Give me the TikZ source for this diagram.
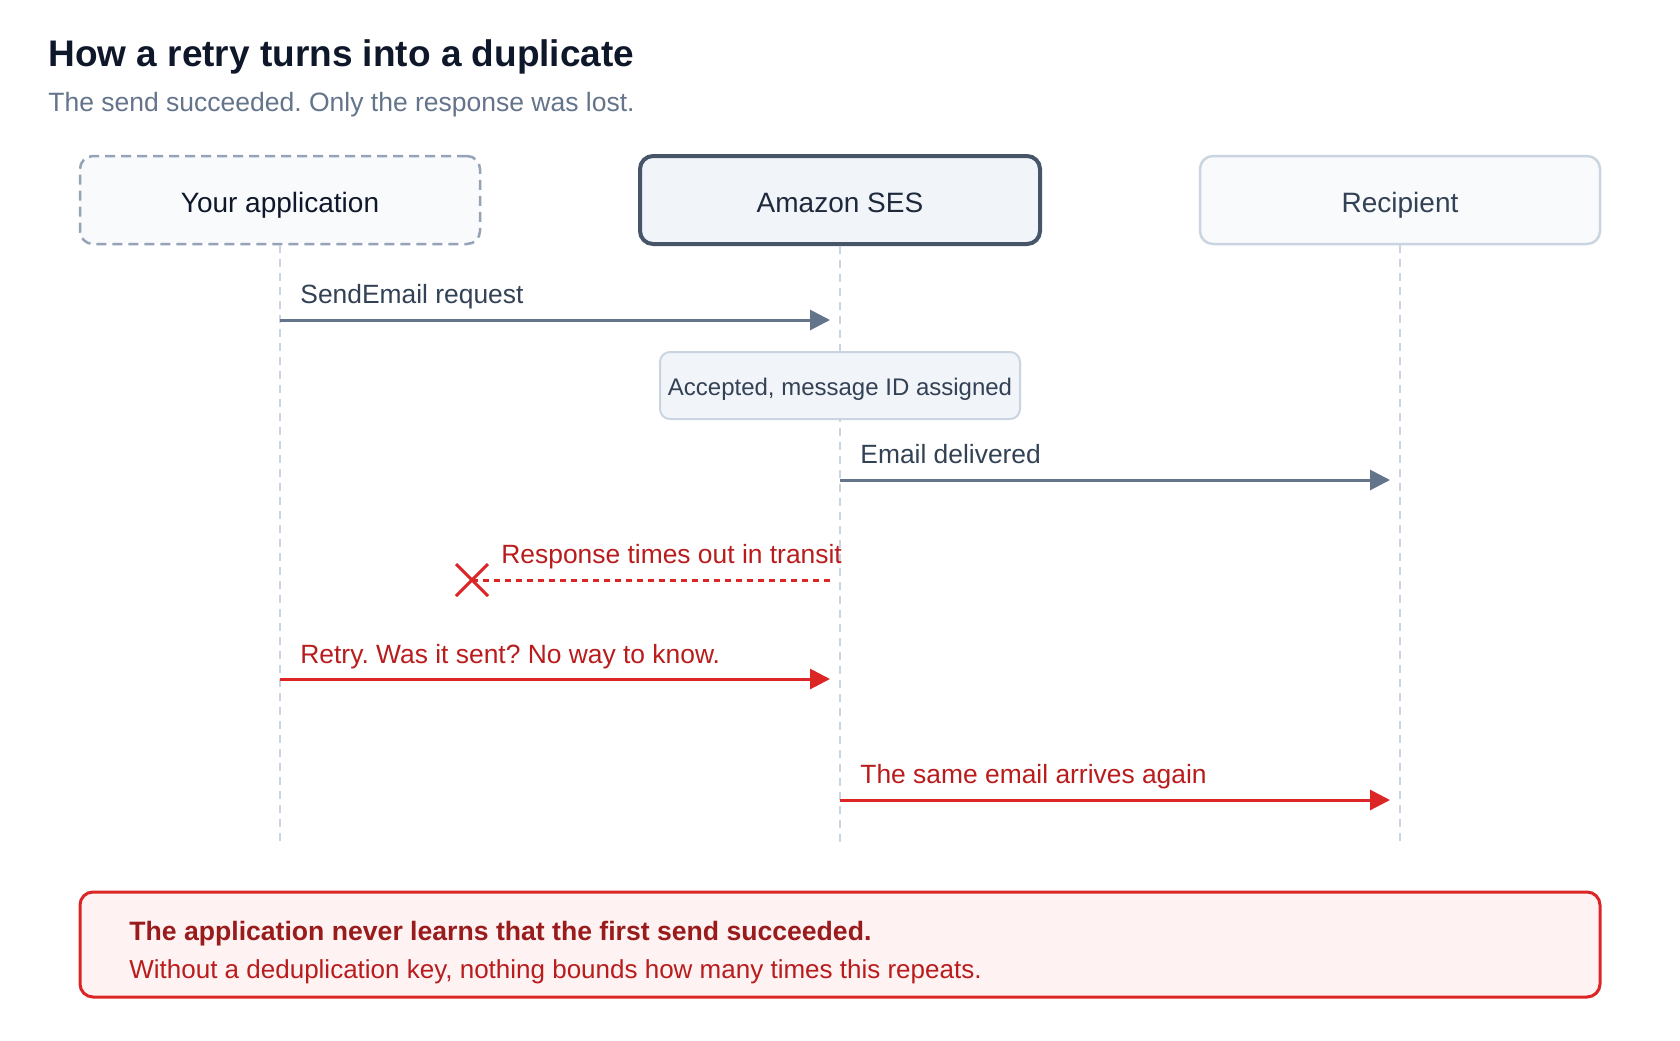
\documentclass[tikz,border=0pt]{standalone}
\usepackage{fontspec}
\setmainfont{Liberation Sans}
\frenchspacing
\usetikzlibrary{arrows.meta,calc,positioning}
\definecolor{ink}{HTML}{0F172A}
\definecolor{inkmid}{HTML}{1E293B}
\definecolor{slatetext}{HTML}{334155}
\definecolor{slatedark}{HTML}{475569}
\definecolor{slate}{HTML}{64748B}
\definecolor{slatelight}{HTML}{94A3B8}
\definecolor{rule}{HTML}{CBD5E1}
\definecolor{panel}{HTML}{F8FAFC}
\definecolor{panelmid}{HTML}{F1F5F9}
\definecolor{alarm}{HTML}{DC2626}
\definecolor{alarmtext}{HTML}{B91C1C}
\definecolor{alarmdark}{HTML}{991B1B}
\definecolor{alarmbg}{HTML}{FEF2F2}
\tikzset{
	actor/.style={rounded corners=6.5pt,minimum width=200pt,minimum height=44pt,text height=12pt,text depth=0pt,anchor=center,font=\fontsize{14pt}{16pt}\selectfont},
	lifeline/.style={draw=rule,line width=1pt,dash pattern=on 4pt off 3pt},
	msg/.style={draw=slate,line width=1.5pt,-{Triangle[length=10pt,width=10pt]}},
	retrymsg/.style={draw=alarm,line width=1.5pt,-{Triangle[length=10pt,width=10pt]}},
	lostmsg/.style={draw=alarm,line width=1.5pt,dash pattern=on 3pt off 2.5pt},
	msglabel/.style={anchor=base west,inner sep=0pt,font=\fontsize{13.2pt}{16pt}\selectfont},
	notebox/.style={draw=rule,fill=panelmid,line width=1pt,rounded corners=5pt,minimum width=180pt,minimum height=33.5pt,text height=10pt,text depth=0pt,text=slatetext,font=\fontsize{12pt}{14pt}\selectfont},
}
\begin{document}
\begin{tikzpicture}[x=0.5pt,y=-0.5pt]
\fill[white] (0,0) rectangle (1680,1040);
% heading
\node (title) at (48,66) [anchor=base west,inner sep=0pt,text=ink,font=\fontsize{18.5pt}{22pt}\selectfont\bfseries] {How a retry turns into a duplicate};
\node (subtitle) at (48,111) [anchor=base west,inner sep=0pt,text=slate,font=\fontsize{13.25pt}{16pt}\selectfont] {The send succeeded. Only the response was lost.};
% participants
\node (app) at (280,200) [actor,fill=panel,draw=slatelight,line width=1.25pt,dash pattern=on 5pt off 3pt,text=ink] {Your application};
\node (ses) at (840,200) [actor,fill=panelmid,draw=slatedark,line width=2pt,text=inkmid] {Amazon SES};
\node (rcpt) at (1400,200) [actor,fill=panel,draw=rule,line width=1.25pt,text=slatetext] {Recipient};
\coordinate (end) at (0,843);
\foreach \p in {app,ses,rcpt}
	\draw[lifeline] (\p.south) -- (\p.south |- end);
% messages
\coordinate (r1) at (0,320);
\draw[msg] (app.south |- r1) coordinate (s1) -- ($(ses.south |- r1)+(-10,0)$);
\node (l1) at ($(s1)+(20,-17)$) [msglabel,text=slatetext] {SendEmail request};
\node (note) at (840,385.5) [notebox] {Accepted, message ID assigned};
\coordinate (r2) at (0,480);
\draw[msg] (ses.south |- r2) coordinate (s2) -- ($(rcpt.south |- r2)+(-10,0)$);
\node (l2) at ($(s2)+(20,-17)$) [msglabel,text=slatetext] {Email delivered};
\coordinate (xm) at (472,580);
\draw[lostmsg] ($(ses.south |- xm)+(-10,0)$) coordinate (s3) -- (xm);
\draw[alarm,line width=1.5pt] ($(xm)+(-16,-16)$) -- ($(xm)+(16,16)$) ($(xm)+(-16,16)$) -- ($(xm)+(16,-16)$);
\node (l3) at ($(xm)+(29,-17)$) [msglabel,text=alarmtext] {Response times out in transit};
\coordinate (r4) at (0,679);
\draw[retrymsg] (app.south |- r4) coordinate (s4) -- ($(ses.south |- r4)+(-10,0)$);
\node (l4) at ($(s4)+(20,-16)$) [msglabel,text=alarmtext] {Retry. Was it sent? No way to know.};
\coordinate (r5) at (0,800);
\draw[retrymsg] (ses.south |- r5) coordinate (s5) -- ($(rcpt.south |- r5)+(-10,0)$);
\node (l5) at ($(s5)+(20,-17)$) [msglabel,text=alarmtext] {The same email arrives again};
% outcome
\node (warn) at (840,944.5) [draw=alarm,fill=alarmbg,line width=1.5pt,rounded corners=6.5pt,minimum width=760pt,minimum height=52.5pt] {};
\node (warn1) at (129,940) [anchor=base west,inner sep=0pt,text=alarmdark,font=\fontsize{13.3pt}{16pt}\selectfont\bfseries] {The application never learns that the first send succeeded.};
\node (warn2) at (129,978) [anchor=base west,inner sep=0pt,text=alarmtext,font=\fontsize{13pt}{16pt}\selectfont] {Without a deduplication key, nothing bounds how many times this repeats.};
\end{tikzpicture}
\end{document}
